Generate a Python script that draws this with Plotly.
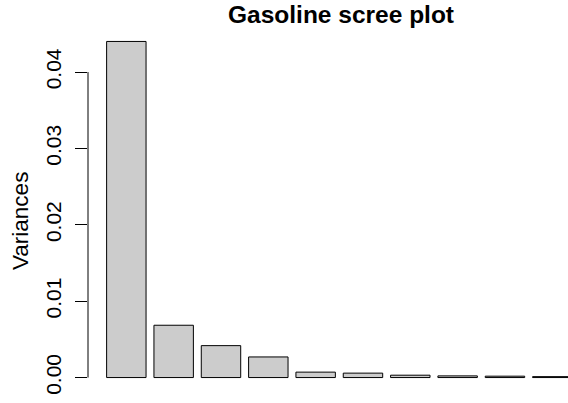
import plotly.graph_objects as go

components = ["Comp.1", "Comp.2", "Comp.3", "Comp.4", "Comp.5",
              "Comp.6", "Comp.7", "Comp.8", "Comp.9", "Comp.10"]
variances = [0.04401, 0.00685, 0.00418, 0.00270, 0.00071,
             0.00058, 0.00031, 0.00022, 0.00018, 0.00012]
y_ticks = [0.00, 0.01, 0.02, 0.03, 0.04]
y_tick_labels = ["0.00", "0.01", "0.02", "0.03", "0.04"]

# R barplot geometry: width 1, space 0.2
centers = [0.7 + 1.2 * i for i in range(len(variances))]

W, H = 568, 403
ml, mr, mt, mb = 88, 0, 28, 12
fig = go.Figure()
fig.add_trace(go.Bar(
    x=centers, y=variances, width=1.0,
    text=components, hovertemplate="%{text}: %{y}<extra></extra>",
    textposition="none",
    marker=dict(color="#CCCCCC", line=dict(color="black", width=1)),
))

font = "Liberation Sans, Arial, Helvetica, sans-serif"
fig.update_layout(
    width=W, height=H,
    margin=dict(l=ml, r=mr, t=mt, b=mb),
    paper_bgcolor="white", plot_bgcolor="white",
    showlegend=False,
    font=dict(family=font, color="black"),
    xaxis=dict(range=[-0.272, -0.272 + 480 / 39.44], showticklabels=False,
               showgrid=False, zeroline=False, showline=False, ticks=""),
    yaxis=dict(range=[-0.00176, 0.04577], tickvals=y_ticks, ticktext=y_tick_labels,
               tickangle=-90, ticks="outside", ticklen=12, tickcolor="black",
               tickwidth=1, tickfont=dict(size=21, family=font, color="black"),
               ticklabelstandoff=6,
               showgrid=False, zeroline=False, showline=False),
    shapes=[dict(type="line", xref="paper", yref="y", x0=0, x1=0,
                 y0=y_ticks[0], y1=y_ticks[-1],
                 line=dict(color="black", width=1))],
    annotations=[
        dict(text="<b>Gasoline scree plot</b>", xref="paper", yref="paper",
             x=(341 - ml) / (W - ml - mr), y=1, yshift=14, xanchor="center",
             yanchor="middle", showarrow=False,
             font=dict(size=24.5, family=font, color="black")),
        dict(text="Variances", xref="paper", yref="paper",
             x=0, xshift=-(ml - 21), y=(H - mb - 221) / (H - mt - mb),
             xanchor="center", yanchor="middle", textangle=-90, showarrow=False,
             font=dict(size=22.5, family=font, color="black")),
    ],
)

fig.write_html("out.html")
